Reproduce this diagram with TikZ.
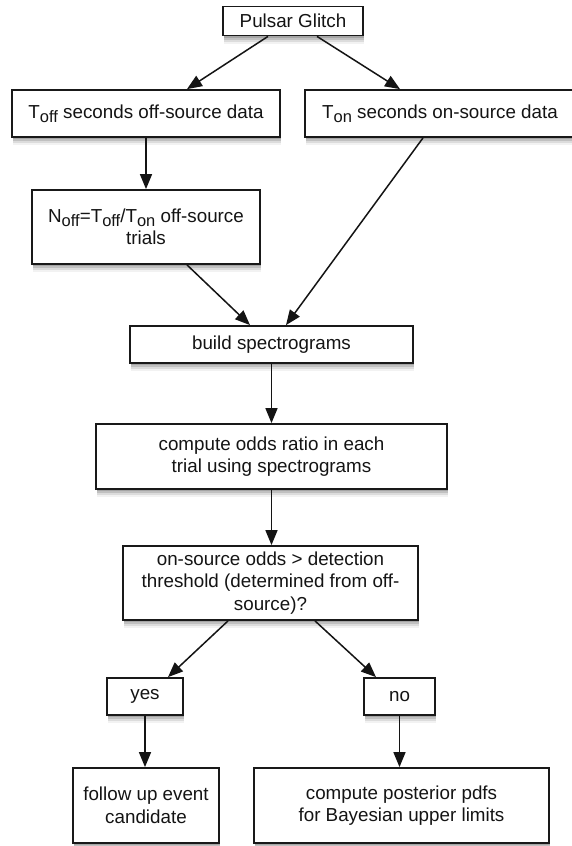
\documentclass[tikz,border=0pt]{standalone}
\usepackage{fontspec}
\setmainfont{Liberation Sans}
\usetikzlibrary{arrows.meta,shadows}
\newcommand{\sbs}[1]{\raisebox{-0.38ex}{\fontsize{16.5pt}{16.5pt}\selectfont #1}}
\begin{document}
\begin{tikzpicture}[x=1pt,y=-1pt,
  softshadow/.style={
    general shadow={shadow xshift=1pt, shadow yshift=-2pt, fill=black, opacity=0.14},
    general shadow={shadow xshift=1pt, shadow yshift=-4pt, fill=black, opacity=0.12},
    general shadow={shadow xshift=1pt, shadow yshift=-6pt, fill=black, opacity=0.09},
    general shadow={shadow xshift=1pt, shadow yshift=-8pt, fill=black, opacity=0.05}},
  box/.style={draw=black!90, line width=1.8pt, fill=white, align=center, inner sep=0pt,
    font=\fontsize{18.8pt}{22.5pt}\selectfont, text=black!92, softshadow},
  arr/.style={draw=black!92, line width=1.5pt, -{Triangle[length=15pt,width=12pt]}}]
\useasboundingbox (0,0) rectangle (572,846);
\fill[white] (0,0) rectangle (572,846);
\node[box, minimum width=140pt, minimum height=29pt] (P) at (293,21) {Pulsar Glitch};
\node[box, minimum width=268pt, minimum height=47pt] (Toff) at (146,113.5) {T\sbs{off} seconds off-source data};
\node[box, minimum width=270pt, minimum height=47pt] (Ton) at (440,113.5) {T\sbs{on} seconds on-source data};
\node[box, minimum width=228pt, minimum height=74pt] (Noff) at (146,227) {N\sbs{off}=T\sbs{off}/T\sbs{on} off-source\\trials};
\node[box, minimum width=283pt, minimum height=37pt] (B) at (271.5,344.5) {build spectrograms};
\node[box, minimum width=351pt, minimum height=65pt] (O) at (271.5,456.5) {compute odds ratio in each\\trial using spectrograms};
\node[box, minimum width=295pt, minimum height=74pt] (S) at (270.5,583) {on-source odds > detection\\threshold (determined from off-\\source)?};
\node[box, minimum width=76pt, minimum height=37pt] (Y) at (145,696.5) {yes};
\node[box, minimum width=71pt, minimum height=37pt] (N) at (399.5,696.5) {no};
\node[box, minimum width=146pt, minimum height=75pt] (F) at (146,805.5) {follow up event\\candidate};
\node[box, minimum width=295pt, minimum height=75pt] (Q) at (401.5,805.5) {compute posterior pdfs\\for Bayesian upper limits};
\draw[arr] ([xshift=-25pt]P.south) -- ([xshift=41pt]Toff.north);
\draw[arr] ([xshift=24pt]P.south) -- ([xshift=-40pt]Ton.north);
\draw[arr] (Toff.south) -- (Noff.north);
\draw[arr] ([xshift=-17pt]Ton.south) -- ([xshift=14.5pt]B.north);
\draw[arr] ([xshift=41pt]Noff.south) -- ([xshift=-21.5pt]B.north);
\draw[arr] (B.south) -- (O.north);
\draw[arr] (O.south) -- (O.south |- S.north);
\draw[arr] ([xshift=-42.5pt]S.south) -- ([xshift=23pt]Y.north);
\draw[arr] ([xshift=44.5pt]S.south) -- ([xshift=-23.5pt]N.north);
\draw[arr] (Y.south) -- (Y.south |- F.north);
\draw[arr] (N.south) -- (N.south |- Q.north);
\end{tikzpicture}
\end{document}
